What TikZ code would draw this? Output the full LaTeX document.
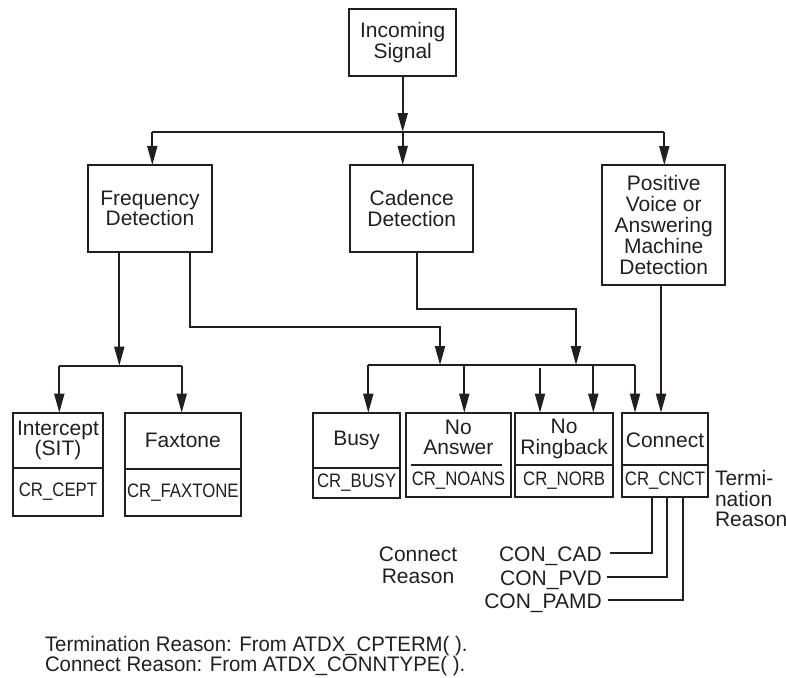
\documentclass[tikz,border=0pt]{standalone}
\usepackage{fontspec}
\setmainfont{Liberation Sans}
\newfontfamily\crfont[FakeStretch=0.86]{Liberation Sans}
\newfontfamily\footfont[FakeStretch=0.97]{Liberation Sans}
\usetikzlibrary{arrows.meta}
\definecolor{ink}{RGB}{35,31,32}
\begin{document}
\begin{tikzpicture}[x=1pt,y=-1pt,
  every node/.style={inner sep=0pt, outer sep=0pt, text=ink, font=\fontsize{21}{20.5}\selectfont},
  box/.style={draw=ink, line width=2.1pt, align=center},
  crlabel/.style={font=\crfont\fontsize{19.5}{20}\selectfont},
  footlabel/.style={font=\footfont\fontsize{21}{20}\selectfont},
  ln/.style={draw=ink, line width=1.8pt},
  arr/.style={ln, -{Triangle[length=19pt,width=10pt]}},
  divline/.style={draw=ink, line width=2pt}]
\useasboundingbox (0,0) rectangle (786,677);

% top level
\node[box, minimum width=106.7pt, minimum height=67pt] (inc) at (402.7,42.5) {Incoming\\Signal};
\node[box, minimum width=123.4pt, minimum height=86.7pt] (freq) at (150,208.3) {Frequency\\Detection};
\node[box, minimum width=123.3pt, minimum height=86.7pt] (cad) at (411.7,208.3) {Cadence\\Detection};
\node[box, minimum width=122.7pt, minimum height=120pt, font=\fontsize{21}{21}\selectfont] (pos) at (663.7,225) {Positive\\Voice or\\Answering\\Machine\\Detection};

% lower boxes (outer frames)
\node[box, minimum width=90.6pt, minimum height=103pt] (icpt) at (58,464.2) {};
\node[box, minimum width=115.7pt, minimum height=103pt] (fax) at (182.85,464.35) {};
\node[box, minimum width=86.7pt, minimum height=85pt] (busy) at (356.65,455.2) {};
\node[box, minimum width=104.7pt, minimum height=84pt] (noans) at (458.35,454.7) {};
\node[box, minimum width=98.3pt, minimum height=84pt] (norb) at (564.15,454.7) {};
\node[box, minimum width=86.6pt, minimum height=84pt] (cnct) at (665,454.7) {};

% dividers
\draw[divline] (icpt.west |- 0,468) -- (icpt.east |- 0,468);
\draw[divline] (fax.west |- 0,468.7) -- (fax.east |- 0,468.7);
\draw[divline] (busy.west |- 0,468.3) -- (busy.east |- 0,468.3);
\draw[divline] (410.7,465) -- (501.7,465);
\draw[divline] (norb.west |- 0,465) -- (norb.east |- 0,465);
\draw[divline] (cnct.west |- 0,465) -- (cnct.east |- 0,465);

% box texts
\node[align=center] (icptT) at (58,440.35) {Intercept\\(SIT)};
\node[crlabel] (icptB) at (58,491.85) {CR\_CEPT};
\node (faxT) at (182.85,440.7) {Faxtone};
\node[crlabel] (faxB) at (182.85,492.35) {CR\_FAXTONE};
\node (busyT) at (356.65,440.5) {Busy};
\node[crlabel] (busyB) at (356.65,483) {CR\_BUSY};
\node[align=center] (noansT) at (458.35,437.5) {No\\Answer};
\node[crlabel] (noansB) at (458.35,480.85) {CR\_NOANS};
\node[align=center] (norbT) at (564.15,438.85) {No\\Ringback};
\node[crlabel] (norbB) at (564.15,480.85) {CR\_NORB};
\node (cnctT) at (665,440) {Connect};
\node[crlabel] (cnctB) at (665,480.85) {CR\_CNCT};

% first level connectors
\coordinate (busL) at (152.3,132);
\coordinate (busM) at (402.7,132);
\coordinate (busR) at (664.3,132);
\draw[ln] (busL) -- (busR);
\draw[arr] (inc.south) -- (busM);
\draw[arr] (busL) -- (busL |- freq.north);
\draw[arr] (busM) -- (busM |- cad.north);
\draw[arr] (busR) -- (busR |- pos.north);

% frequency outputs
\coordinate (fbus) at (119.3,365.7);
\draw[arr] (freq.south -| fbus) -- (fbus);
\draw[ln] (59.3,365.7) -- (181.7,365.7);
\draw[arr] (59.3,365.7) -- (59.3,412.7);
\draw[arr] (181.7,365.7) -- (181.7,412.7);
\draw[arr] (freq.south -| 190,0) |- (440,326.7) -- (440,365);

% cadence output
\draw[arr] (cad.south -| 417,0) |- (576,309.3) -- (576,365);

% second bus
\draw[ln] (368.3,365) -- (635,365);
\draw[arr] (368.3,365) -- (busy.north -| 368.3,0);
\draw[arr] (464.3,365) -- (noans.north -| 464.3,0);
\draw[arr] (540,368) -- (norb.north -| 540,0);
\draw[arr] (593.3,365) -- (norb.north -| 593.3,0);
\draw[arr] (635,365) -- (cnct.north -| 635,0);

% positive voice
\draw[arr] (pos.south -| 661,0) -- (cnct.north -| 661,0);

% termination reason label
\node[anchor=west, align=left] (term) at (715,498.7) {Termi-\\nation\\Reason};

% connect reasons
\node[anchor=base east] (lcad) at (601.7,561.3) {CON\_CAD};
\node[anchor=base east] (lpvd) at (601.7,585.3) {CON\_PVD};
\node[anchor=base east] (lpamd) at (601.7,608.5) {CON\_PAMD};
\draw[ln] (cnct.south -| 651.7,0) |- (609.5,553);
\draw[ln] (cnct.south -| 666.7,0) |- (606.7,577.3);
\draw[ln] (cnct.south -| 683.3,0) |- (607.5,600);
\node[align=center, font=\fontsize{21}{22.3}\selectfont] (crsn) at (418,565.2) {Connect\\Reason};

% footer
\node[anchor=base west, footlabel] (foot1) at (45,651.7) {Termination Reason: From ATDX\_CPTERM( ).};
\node[anchor=base west, footlabel] (foot2) at (45,671.7) {Connect Reason: From ATDX\_CONNTYPE( ).};
\end{tikzpicture}
\end{document}
